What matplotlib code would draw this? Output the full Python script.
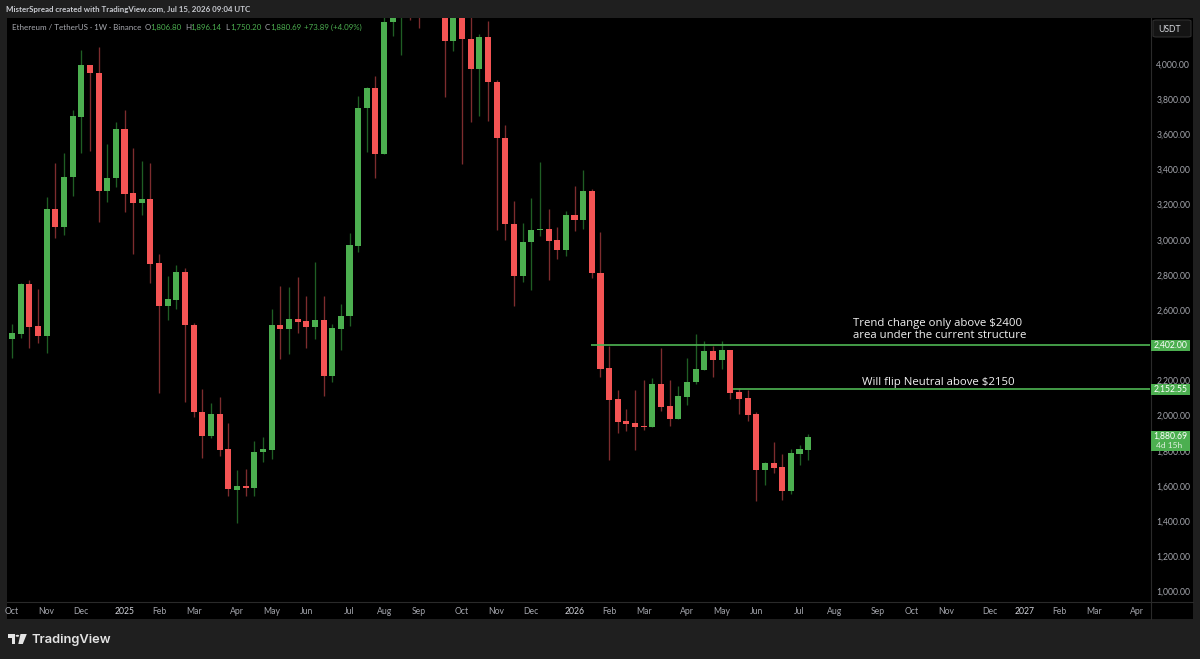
import matplotlib
matplotlib.use("Agg")
import matplotlib.pyplot as plt
from matplotlib.patches import Rectangle, FancyBboxPatch, Circle, Polygon

# Weekly candles, ETH/USDT (values above the visible window are estimates)
opens = [2436,2466,2747,2510,2455,3177,3071,3355,3700,3996,3950,3276,3350,3630,3265,3209,3230,2866,2625,2658,
         2819,2515,2021,1886,2007,1808,1579,1600,1588,1791,1806,2514,2494,2548,2538,2504,2544,2227,2494,2567,
         2966,3748,3865,3488,4239,4470,4780,4300,4280,4700,4480,4131,4530,4144,3973,4152,3898,3577,3092,2794,
         2986,3054,3060,2999,2944,3141,3114,3278,2813,2269,2093,1969,1958,1941,1935,2178,2055,1981,2108,2190,
         2259,2368,2318,2372,2134,2100,2007,1691,1729,1708,1571,1783,1806.80]
highs = [2519,2756,2771,2720,3245,3435,3492,3738,4080,3996,4098,3543,3670,3738,3520,3448,3435,2919,2794,2857,
         2841,2525,2151,2070,2104,1956,1691,1695,1856,1877,2605,2737,2730,2787,2680,2876,2680,2521,2635,3039,
         3818,3871,3932,4350,4500,4790,4950,4490,4770,4760,4500,4600,4760,4290,4171,4245,3909,3651,3219,3094,
         3236,3441,3174,3073,3164,3306,3397,3290,3044,2398,2147,2039,2147,2201,2212,2386,2201,2168,2329,2464,
         2424,2398,2423,2372,2155,2146,2021,1734,1850,1782,1808,1835,1896.14]
lows = [2329,2441,2383,2413,2358,3012,3027,3251,3495,3507,3101,3217,3302,3156,2919,3143,2753,2127,2546,2606,
        2077,1994,1757,1874,1770,1543,1391,1543,1543,1738,1755,2324,2349,2468,2383,2438,2112,2190,2373,2511,
        2929,3498,3350,3488,4161,4051,4250,4205,4270,4280,3811,4076,3433,3670,3706,3677,3056,2999,2623,2762,
        2714,3022,2773,2889,2908,3052,3061,2784,2221,1749,1899,1911,1803,1918,1935,2026,1941,1981,2062,2178,
        2259,2221,2267,2093,2009,1971,1514,1605,1675,1520,1554,1717,1750.20]
closes = [2468,2747,2506,2455,3177,3071,3357,3702,3996,3949,3276,3353,3630,3262,3209,3230,2864,2625,2662,2819,
          2514,2019,1886,2007,1806,1581,1601,1588,1795,1808,2514,2493,2548,2534,2504,2544,2227,2497,2567,2970,
          3750,3865,3488,4241,4470,4780,4300,4280,4700,4480,4131,4530,4142,3973,4152,3898,3577,3090,2796,2987,
          3056,3060,2995,2944,3141,3114,3278,2811,2267,2089,1965,1954,1935,1935,2178,2051,1981,2110,2191,2263,
          2368,2318,2372,2129,2095,2003,1691,1729,1704,1571,1786,1808,1880.69]

x_ticks = [0,4,8,13,17,21,26,30,34,39,43,47,52,56,60,65,69,73,78,82,86,91,95,100,104,108,113,117,121,125,130]
x_labels = ["Oct","Nov","Dec","2025","Feb","Mar","Apr","May","Jun","Jul","Aug","Sep","Oct","Nov","Dec","2026",
            "Feb","Mar","Apr","May","Jun","Jul","Aug","Sep","Oct","Nov","Dec","2027","Feb","Mar","Apr"]
y_ticks = [1000,1200,1400,1600,1800,2000,2200,2600,2800,3000,3200,3400,3600,3800,4000]
level_high = 2402.00
level_neutral = 2152.55
level_high_start = 66.9
level_neutral_start = 83.3
last_price = 1880.69

FONT = "Lato"
W, H = 1200, 659
BG = "#1f1f1f"; GREEN = "#4caf50"; RED = "#f45454"
GWICK = "#1f5e24"; RWICK = "#7d2c2e"; AXT = "#a4a6ad"; DIV = "#2a2a2a"

plt.rcParams["font.family"] = [FONT, "DejaVu Sans"]
fig = plt.figure(figsize=(12, 6.59), dpi=100, facecolor=BG)

def box(l, t, r, b):
    return [l / W, 1 - b / H, (r - l) / W, (b - t) / H]

ax = fig.add_axes(box(7, 18, 1150, 601), facecolor="black")
ax.set_xlim(-0.578, 131.5)
ax.set_ylim(945.5, 4261.6)

for i, (o, h, l, c) in enumerate(zip(opens, highs, lows, closes)):
    up = c >= o
    ax.vlines(i, l, h, color=GWICK if up else RWICK, lw=0.95, zorder=2)
    ax.bar(i, max(abs(c - o), 6), bottom=min(o, c), width=0.7, color=GREEN if up else RED,
           edgecolor="none", zorder=3)

ax.hlines(level_high, level_high_start, 131.5, color=GREEN, lw=1.25, zorder=4)
ax.hlines(level_neutral, level_neutral_start, 131.5, color=GREEN, lw=1.25, zorder=4)

for s in ax.spines.values():
    s.set_visible(False)
ax.set_xticks(x_ticks)
ax.set_xticklabels(x_labels)
ax.set_yticks(y_ticks)
ax.set_yticklabels([f"{v:,.2f}" for v in y_ticks])
ax.yaxis.tick_right()
ax.tick_params(axis="both", length=0, colors=AXT, labelsize=6.2)
ax.tick_params(axis="x", pad=4)
ax.tick_params(axis="y", pad=4.5)
for lab, name in zip(ax.get_xticklabels(), x_labels):
    if name.isdigit():
        lab.set_color("#d0d2d8")

fig.add_artist(Rectangle((1150 / W, 1 - 601 / H), 43 / W, 583 / H, transform=fig.transFigure, fc="black", ec="none", zorder=-5))
fig.add_artist(Rectangle((7 / W, 1 - 619 / H), 1186 / W, 18 / H, transform=fig.transFigure, fc="black", ec="none", zorder=-5))
fig.add_artist(plt.Line2D([7 / W, 1193 / W], [1 - 601.5 / H] * 2, color=DIV, lw=0.8, zorder=5))
fig.add_artist(plt.Line2D([1150.5 / W] * 2, [1 - 18 / H, 1 - 619 / H], color=DIV, lw=0.8, zorder=5))

fig.text(6 / W, 1 - 9.5 / H, "MisterSpread created with TradingView.com, Jul 15, 2026 09:04 UTC",
         color="#c9cbd1", fontsize=5.65, va="center", ha="left", fontweight="bold")
fig.text(12 / W, 1 - 27.5 / H, "Ethereum / TetherUS · 1W · Binance", color="#a8aab0", fontsize=5.8, va="center", ha="left")
legend_bits = [(145, "O", "#a8aab0"), (150, "1,806.80", GREEN), (185, "H", "#a8aab0"), (190.5, "1,896.14", GREEN),
               (225, "L", "#a8aab0"), (230, "1,750.20", GREEN), (264.5, "C", "#a8aab0"), (270, "1,880.69", GREEN),
               (304, "+73.89 (+4.09%)", GREEN)]
for px, t, col in legend_bits:
    fig.text(px / W, 1 - 27.5 / H, t, color=col, fontsize=5.7, va="center", ha="left")

NOTE = ["Open Sans", "DejaVu Sans"]
fig.text(853 / W, 1 - 323.5 / H, "Trend change only above $2400", color="#f2f2f2", fontsize=8.2, va="center", ha="left", family=NOTE, fontweight="medium")
fig.text(853 / W, 1 - 336 / H, "area under the current structure", color="#f2f2f2", fontsize=8.2, va="center", ha="left", family=NOTE, fontweight="medium")
fig.text(862 / W, 1 - 382 / H, "Will flip Neutral above $2150", color="#f2f2f2", fontsize=8.2, va="center", ha="left", family=NOTE, fontweight="medium")

def badge(top, bottom):
    fig.add_artist(Rectangle((1151 / W, 1 - bottom / H), 39 / W, (bottom - top) / H, transform=fig.transFigure,
                             fc=GREEN, ec="none", zorder=6))
badge(340, 351)
badge(384, 395)
badge(431, 451)
fig.text(1170.5 / W, 1 - 345.3 / H, f"{level_high:,.2f}", color="white", fontsize=6.2, ha="center", va="center", zorder=7)
fig.text(1170.5 / W, 1 - 389.3 / H, f"{level_neutral:,.2f}", color="white", fontsize=6.2, ha="center", va="center", zorder=7)
fig.text(1170.5 / W, 1 - 436.3 / H, f"{last_price:,.2f}", color="white", fontsize=6.2, ha="center", va="center", zorder=7)
fig.text(1156 / W, 1 - 445.5 / H, "4d 15h", color="#dff0df", fontsize=6.0, ha="left", va="center", zorder=7)

fig.add_artist(FancyBboxPatch((1153 / W, 1 - 37 / H), 38 / W, 17 / H, transform=fig.transFigure,
                              boxstyle="round,pad=0,rounding_size=0.003", mutation_aspect=H / W * 1.0,
                              fc="#141414", ec="#2e2e2e", lw=0.8, zorder=6))
fig.text(1158.5 / W, 1 - 29 / H, "USDT", color="#d6d8dd", fontsize=6.2, ha="left", va="center", zorder=7)

def pg(pts, col="#e4e4e4"):
    fig.add_artist(Polygon([(a / W, 1 - b / H) for a, b in pts], closed=True, transform=fig.transFigure, fc=col, ec="none", zorder=7))
pg([(8, 634), (15.2, 634), (15.2, 644), (11.6, 644), (11.6, 637.6), (8, 637.6)])
pg([(20.5, 634), (26.8, 634), (22.8, 644), (18.3, 644)])
fig.add_artist(Circle((17.4 / W, 1 - 635.8 / H), 1.8 / W, transform=fig.transFigure, fc="#e4e4e4", ec="none", zorder=7))
fig.text(32 / W, 1 - 640 / H, "TradingView", color="#e4e4e4", fontsize=9.3, ha="left", va="center",
         family=["Inter", "DejaVu Sans"], fontweight="semibold")

fig.savefig("out.png", dpi=100, facecolor=BG)
